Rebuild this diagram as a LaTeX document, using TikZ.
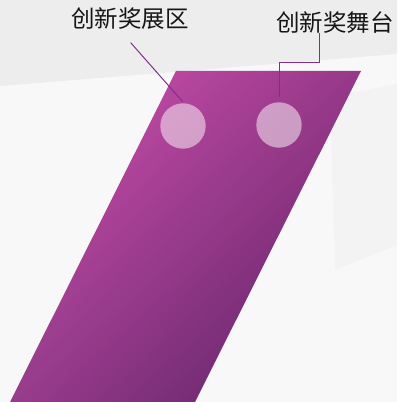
\documentclass[tikz,border=0pt]{standalone}
\usepackage{fontspec}
\usetikzlibrary{shadings}
\newfontfamily\cjk{Noto Sans CJK SC}
\definecolor{bgbase}{RGB}{248,248,249}
\definecolor{bgtop}{RGB}{237,237,238}
\definecolor{bgmid}{RGB}{243,243,244}
\definecolor{pul}{RGB}{214,84,180}
\definecolor{pur}{RGB}{150,56,136}
\definecolor{pll}{RGB}{152,60,140}
\definecolor{plr}{RGB}{87,31,96}
\definecolor{leader}{RGB}{128,48,140}
\definecolor{labeltext}{RGB}{22,22,22}
\tikzset{
  lbl/.style={font=\cjk\fontsize{23.5}{28}\selectfont, text=labeltext, inner sep=0pt},
  spot/.style={circle, fill=white, fill opacity=0.5, minimum size=45.4pt, inner sep=0pt},
  leadline/.style={draw=leader, line width=1pt}
}
\begin{document}
\begin{tikzpicture}[x=1pt,y=1pt]
\useasboundingbox (0,0) rectangle (397,402);
% background
\fill[bgbase] (0,0) rectangle (397,402);
\fill[bgtop] (0,402) -- (397,402) -- (397,348) -- (0,316) -- cycle;
\fill[bgmid] (330,305) -- (397,318) -- (397,157) -- (335,132) -- cycle;
% purple band
\shade[upper left=pul, upper right=pur, lower left=pll, lower right=plr]
  (176,331) -- (361,331) -- (195,0) -- (10,0) -- cycle;
% spots
\node[spot] (s1) at (183,276) {};
\node[spot] (s2) at (279,277) {};
% labels
\node[lbl] (l1) at (130,383) {创新奖展区};
\node[lbl] (l2) at (335,379.5) {创新奖舞台};
% leaders
\coordinate (a1) at (130.7,359.3);
\coordinate (a2) at (182.7,300.3);
\coordinate (b1) at (319.3,369);
\coordinate (b2) at (279,305.3);
\draw[leadline] (a1) -- (a2);
\draw[leadline] (b1) |- (279,339.7) -- (b2);
\end{tikzpicture}
\end{document}
